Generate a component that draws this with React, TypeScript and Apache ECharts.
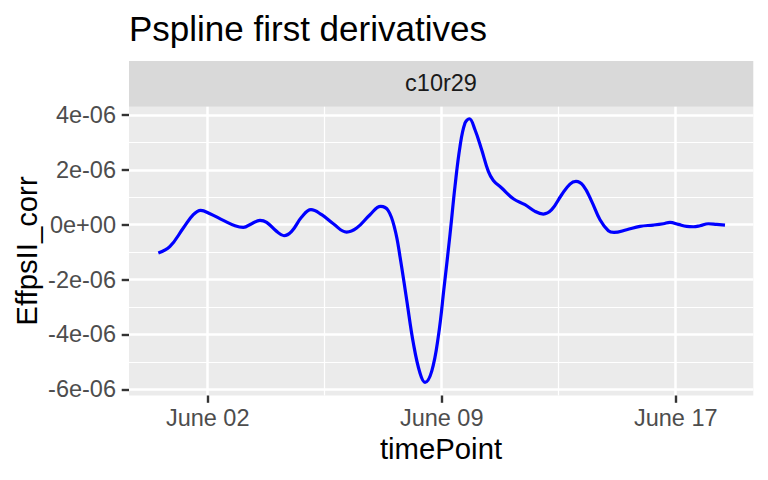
import { useEffect, useRef } from 'react';
import * as echarts from 'echarts';

// time in days of June (June 02 00:00 = 2)
const dayOfJune = [
  0.418, 0.792, 1.219, 1.539, 1.775, 2.074, 2.501, 2.875, 3.142, 3.409, 3.676, 3.89,
  4.211, 4.446, 4.691, 5.012, 5.311, 5.653, 6.027, 6.454, 6.775, 7.202, 7.544, 7.789,
  8.003, 8.163, 8.377, 8.591, 8.804, 8.965, 9.179, 9.392, 9.58, 9.766, 9.926, 10.087,
  10.247, 10.386, 10.567, 10.781, 10.995, 11.155, 11.422, 11.796, 12.17, 12.49, 12.757,
  13.025, 13.345, 13.612, 13.804, 14.039, 14.307, 14.574, 14.841, 15.022, 15.428,
  15.856, 16.283, 16.604, 16.817, 17.084, 17.351, 17.565, 17.779, 18.046, 18.313, 18.58,
];
// first derivative, in units of 1e-6
const derivE6 = [
  -1.033, -0.79, -0.121, 0.365, 0.522, 0.401, 0.158, -0.036, -0.097, 0.036, 0.158, 0.085,
  -0.243, -0.401, -0.243, 0.28, 0.547, 0.365, 0.036, -0.267, -0.121, 0.365, 0.668, 0.51,
  -0.182, -1.155, -2.734, -4.314, -5.408, -5.748, -5.347, -4.071, -2.248, -0.36, 1.397,
  2.856, 3.707, 3.864, 3.463, 2.734, 1.944, 1.616, 1.337, 0.948, 0.729, 0.486, 0.389,
  0.547, 1.094, 1.483, 1.58, 1.422, 0.851, 0.182, -0.219, -0.28, -0.182, -0.061, -0.012,
  0.036, 0.085, 0.012, -0.061, -0.073, -0.036, 0.036, 0.012, -0.012,
];

const xTicks = [2, 9.5, 17];
const xMinor = [5.75, 13.25];
const yTicks = [-6e-6, -4e-6, -2e-6, 0, 2e-6, 4e-6];
const yMinor = [-5e-6, -3e-6, -1e-6, 1e-6, 3e-6];

const facetLabel = 'c10r29';
const FONT = '"Liberation Sans", Arial, sans-serif';

const sci = (v: number) => {
  if (Math.abs(v) < 1e-15) return '0e+00';
  const e = Math.floor(Math.log10(Math.abs(v)) + 1e-9);
  const m = Math.round(v / Math.pow(10, e));
  return `${m}e${e < 0 ? '-' : '+'}${String(Math.abs(e)).padStart(2, '0')}`;
};
const juneLabel = (v: number) => 'June ' + String(Math.floor(v + 1e-9)).padStart(2, '0');

const X_MIN = -0.522;
const X_MAX = 19.487;
const Y_MIN = -6.226e-6;
const Y_MAX = 4.303e-6;

const App = () => {
  const chartRef = useRef<HTMLDivElement>(null);

  useEffect(() => {
    const chart = echarts.init(chartRef.current, null, { renderer: 'svg' });

    const hiddenAxis = {
      axisLabel: { show: false },
      axisLine: { show: false, onZero: false },
    };

    chart.setOption({
      animation: false,
      backgroundColor: '#FFFFFF',
      grid: {
        left: 129,
        right: 14.7,
        top: 106.7,
        bottom: 84.5,
        show: true,
        backgroundColor: '#EBEBEB',
        borderWidth: 0,
        containLabel: false,
        outerBoundsMode: 'none',
      },
      xAxis: [
        {
          type: 'value',
          min: X_MIN,
          max: X_MAX,
          axisLine: { show: false, onZero: false },
          axisTick: { show: true, customValues: xTicks, length: 7.3, lineStyle: { color: '#333333', width: 2.4 } },
          axisLabel: {
            customValues: xTicks,
            formatter: juneLabel,
            color: '#4D4D4D',
            fontSize: 23.5,
            fontFamily: FONT,
            margin: 10.5,
          },
          splitLine: { show: true, lineStyle: { color: '#FFFFFF', width: 2.5 } },
          z: 2,
        },
        {
          type: 'value',
          min: X_MIN,
          max: X_MAX,
          position: 'bottom',
          ...hiddenAxis,
          axisTick: { show: false, customValues: xMinor },
          splitLine: { show: true, lineStyle: { color: '#FFFFFF', width: 1.2 } },
          z: 1,
        },
      ],
      yAxis: [
        {
          type: 'value',
          min: Y_MIN,
          max: Y_MAX,
          axisLine: { show: false, onZero: false },
          axisTick: { show: true, customValues: yTicks, length: 7.3, lineStyle: { color: '#333333', width: 2.4 } },
          axisLabel: {
            customValues: yTicks,
            formatter: sci,
            color: '#4D4D4D',
            fontSize: 23.5,
            fontFamily: FONT,
            margin: 13,
          },
          splitLine: { show: true, lineStyle: { color: '#FFFFFF', width: 2.5 } },
          z: 2,
        },
        {
          type: 'value',
          min: Y_MIN,
          max: Y_MAX,
          position: 'left',
          ...hiddenAxis,
          axisTick: { show: false, customValues: yMinor },
          splitLine: { show: true, lineStyle: { color: '#FFFFFF', width: 1.2 } },
          z: 1,
        },
      ],
      series: [
        {
          type: 'line',
          xAxisIndex: 0,
          yAxisIndex: 0,
          data: dayOfJune.map((d, i) => [d, derivE6[i] * 1e-6]),
          smooth: 0.4,
          showSymbol: false,
          lineStyle: { color: '#0000FF', width: 3.2 },
          z: 5,
        },
      ],
      graphic: [
        {
          type: 'text',
          x: 129,
          y: 28.5,
          style: {
            text: 'Pspline first derivatives',
            fill: '#000000',
            font: `35px ${FONT}`,
            align: 'left',
            verticalAlign: 'middle',
            textAlign: 'left',
            textVerticalAlign: 'middle',
          },
        },
        {
          type: 'rect',
          shape: { x: 129, y: 61, width: 624.3, height: 45.7 },
          style: { fill: '#D9D9D9' },
        },
        {
          type: 'text',
          x: 441,
          y: 83,
          style: {
            text: facetLabel,
            fill: '#1A1A1A',
            font: `23.5px ${FONT}`,
            align: 'center',
            verticalAlign: 'middle',
            textAlign: 'center',
            textVerticalAlign: 'middle',
          },
        },
        {
          type: 'text',
          x: 441,
          y: 448.2,
          style: {
            text: 'timePoint',
            fill: '#000000',
            font: `29.3px ${FONT}`,
            align: 'center',
            verticalAlign: 'middle',
            textAlign: 'center',
            textVerticalAlign: 'middle',
          },
        },
        {
          type: 'text',
          x: 26,
          y: 251,
          rotation: Math.PI / 2,
          style: {
            text: 'EffpsII_corr',
            fill: '#000000',
            font: `29.3px ${FONT}`,
            align: 'center',
            verticalAlign: 'middle',
            textAlign: 'center',
            textVerticalAlign: 'middle',
          },
        },
      ],
    });

    return () => {
      chart.dispose();
    };
  }, []);

  return (
    <div
      ref={chartRef}
      style={{ position: 'fixed', left: 0, top: 0, width: '768px', height: '480px' }}
    />
  );
};

export default App;
